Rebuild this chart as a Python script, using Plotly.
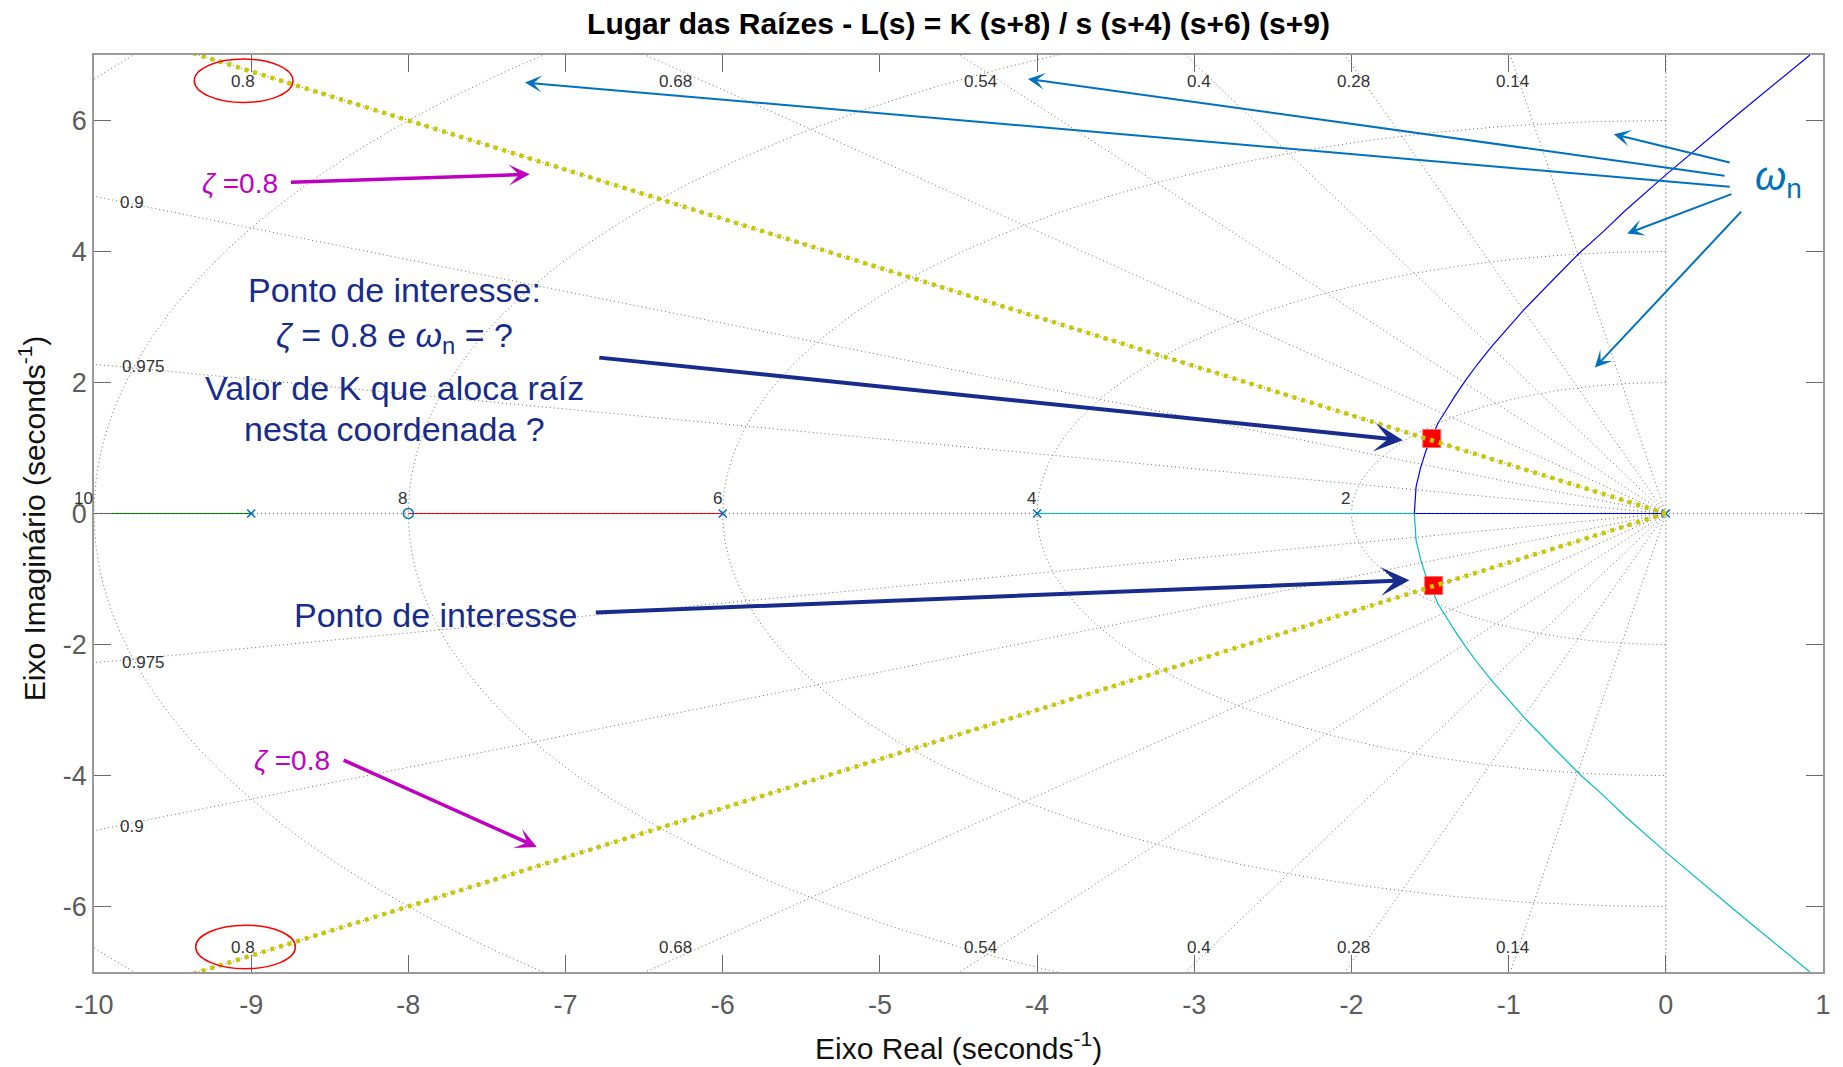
import numpy as np
import plotly.graph_objects as go

# ---------------- data ----------------
poles_re = [0, -4, -6, -9]
zeros_re = [-8]
zeta_vals = [0.14, 0.28, 0.4, 0.54, 0.68, 0.8, 0.9, 0.975]
wn_vals = [2, 4, 6, 8, 10, 12]
wn_label_vals = [2, 4, 6, 8, 10]

# upper complex branch (blue); the lower (cyan) one is its mirror image
branch_re = [-1.60, -1.595, -1.589, -1.56, -1.525, -1.489, -1.451, -1.398, -1.34, -1.273,
             -1.195, -1.11, -1.0, -0.905, -0.725, -0.553, -0.4, -0.256, 0.0, 0.16, 0.475, 0.917]
branch_im = [0.0, 0.20, 0.406, 0.70, 0.966, 1.145, 1.374, 1.577, 1.80, 2.036,
             2.29, 2.545, 2.85, 3.105, 3.55, 3.969, 4.30, 4.63, 5.17, 5.496, 6.13, 7.0]

# real-axis segments of the locus
seg_green = [-9, -10.5]
seg_red = [-6, -8]
seg_cyan = [-4, -1.60]
seg_blue = [0, -1.60]

# zeta = 0.8 highlight lines
zline_re = [0, -9.6]
zline_im = [0, 7.2]

# points of interest
poi_re = [-1.489, -1.477]
poi_im = [1.145, -1.10]

# tick labels
x_ticks = list(range(-10, 2))
x_ticktext = ['-10', '-9', '-8', '-7', '-6', '-5', '-4', '-3', '-2', '-1', '0', '1']
y_ticks = [-6, -4, -2, 0, 2, 4, 6]
y_ticktext = ['-6', '-4', '-2', '0', '2', '4', '6']

# zeta label positions
top_lab_re = [-9.054, -6.303, -4.357, -2.97, -1.985, -0.978]
top_lab_txt = ['0.8', '0.68', '0.54', '0.4', '0.28', '0.14']
top_lab_im = 6.6
side_lab_txt = ['0.9', '0.975']
side_lab_re = [-9.756, -9.682]
side_lab_im = [4.75, 2.238]

FONT = "Liberation Sans, Arial, sans-serif"
GRID = "#6e6e6e"
NAVY = "#172c8c"
MAG = "#c000c0"
WBLUE = "#0072bd"

fig = go.Figure()

# ---------------- s-grid ----------------
R = 16
for z in zeta_vals:
    w = np.sqrt(1 - z * z)
    fig.add_trace(go.Scatter(x=[0, -R * z, None, 0, -R * z], y=[0, R * w, None, 0, -R * w],
                             mode="lines", line=dict(color=GRID, width=1, dash="1px,3px"),
                             hoverinfo="skip", showlegend=False))
th = np.linspace(np.pi / 2, 3 * np.pi / 2, 181)
for wn in wn_vals:
    fig.add_trace(go.Scatter(x=wn * np.cos(th), y=wn * np.sin(th), mode="lines",
                             line=dict(color=GRID, width=1, dash="1px,3px"),
                             hoverinfo="skip", showlegend=False))
fig.add_trace(go.Scatter(x=[0, 0], y=[-8, 8], mode="lines",
                         line=dict(color=GRID, width=1.3, dash="1px,3px"), showlegend=False))
fig.add_trace(go.Scatter(x=[-11, 2], y=[0, 0], mode="lines",
                         line=dict(color=GRID, width=1.3, dash="1px,3px"), showlegend=False))

# ---------------- locus ----------------
fig.add_trace(go.Scatter(x=seg_green, y=[0, 0], mode="lines", line=dict(color="#008000", width=1.2), showlegend=False))
fig.add_trace(go.Scatter(x=seg_red, y=[0, 0], mode="lines", line=dict(color="#ff0000", width=1.2), showlegend=False))
fig.add_trace(go.Scatter(x=seg_cyan, y=[0, 0], mode="lines", line=dict(color="#00bfbf", width=1.2), showlegend=False))
fig.add_trace(go.Scatter(x=seg_blue, y=[0, 0], mode="lines", line=dict(color="#0000ff", width=1.2), showlegend=False))
fig.add_trace(go.Scatter(x=branch_re, y=branch_im, mode="lines",
                         line=dict(color="#0000ff", width=1.2), showlegend=False))
fig.add_trace(go.Scatter(x=branch_re, y=[-v for v in branch_im], mode="lines",
                         line=dict(color="#00bfbf", width=1.2), showlegend=False))

fig.add_trace(go.Scatter(x=poles_re, y=[0] * len(poles_re), mode="markers",
                         marker=dict(symbol="x-thin", size=8, color=WBLUE, line=dict(color=WBLUE, width=1.6)),
                         showlegend=False))
fig.add_trace(go.Scatter(x=zeros_re, y=[0] * len(zeros_re), mode="markers",
                         marker=dict(symbol="circle-open", size=10, color=WBLUE, line=dict(color=WBLUE, width=1.5)),
                         showlegend=False))

fig.add_trace(go.Scatter(x=poi_re, y=poi_im, mode="markers",
                         marker=dict(symbol="square", size=18, color="#ff0000", line=dict(color="#ff6666", width=1)),
                         showlegend=False))
fig.add_trace(go.Scatter(x=zline_re, y=zline_im, mode="lines",
                         line=dict(color="#c8c800", width=4.5, dash="4px,5px"), showlegend=False))
fig.add_trace(go.Scatter(x=zline_re, y=[-v for v in zline_im], mode="lines",
                         line=dict(color="#c8c800", width=4.5, dash="4px,5px"), showlegend=False))

# ---------------- annotations ----------------
ann = []
def txt(x, y, t, size, color, **kw):
    d = dict(x=x, y=y, xref="x", yref="y", text=t, showarrow=False,
             font=dict(family=FONT, size=size, color=color))
    d.update(kw)
    ann.append(d)

def arrow(x, y, ax, ay, color, width, size, head=3):
    ann.append(dict(x=x, y=y, ax=ax, ay=ay, xref="x", yref="y", axref="x", ayref="y",
                    text="", showarrow=True, arrowhead=head, arrowwidth=width,
                    arrowsize=size, arrowcolor=color, standoff=0, startstandoff=0))

for xv, t in zip(top_lab_re, top_lab_txt):
    txt(xv, top_lab_im, t, 17, "#333333")
    txt(xv, -6.627, t, 17, "#333333")
for xv, yv, t in zip(side_lab_re, side_lab_im, side_lab_txt):
    txt(xv, yv, t, 17, "#333333")
    txt(xv, -yv - 0.03, t, 17, "#333333")
for wn in wn_label_vals:
    if wn == 10:
        txt(-10, 0.05, str(wn), 17, "#333333", xanchor="right", yanchor="bottom", xshift=1)
    else:
        txt(-wn - 0.035, 0.05, str(wn), 17, "#333333", yanchor="bottom")

shapes = [
    dict(type="circle", xref="x", yref="y", x0=-9.362, x1=-8.734, y0=6.275, y1=6.939,
         line=dict(color="#ff0000", width=1.5)),
    dict(type="circle", xref="x", yref="y", x0=-9.353, x1=-8.719, y0=-6.95, y1=-6.285,
         line=dict(color="#ff0000", width=1.5)),
]

# magenta zeta notes
txt(-9.07, 5.04, "<i>ζ</i> =0.8", 28, MAG)
arrow(-7.228, 5.18, -8.757, 5.055, MAG, 3.5, 1.0)
txt(-8.74, -3.77, "<i>ζ</i> =0.8", 28, MAG)
arrow(-7.183, -5.09, -8.421, -3.756, MAG, 3.5, 1.0)

# navy notes
txt(-8.09, 3.416, "Ponto de interesse:", 34, NAVY)
txt(-8.09, 2.69, "<i>ζ</i> = 0.8 e <i>ω</i><sub>n</sub> = ?", 34, NAVY)
txt(-8.09, 1.91, "Valor de K que aloca raíz", 34, NAVY)
txt(-8.09, 1.29, "nesta coordenada ?", 34, NAVY)
arrow(-1.673, 1.119, -6.795, 2.382, NAVY, 4, 1.2)
txt(-7.826, -1.548, "Ponto de interesse", 34, NAVY)
arrow(-1.631, -1.018, -6.817, -1.513, NAVY, 4, 1.2)

# omega_n notes
txt(0.72, 5.1, "<i>ω</i><sub>n</sub>", 40, WBLUE)
arrow(-0.331, 5.791, 0.416, 5.353, WBLUE, 2, 1.4)
arrow(-4.058, 6.634, 0.383, 5.154, WBLUE, 2, 1.4)
arrow(-7.258, 6.58, 0.416, 4.986, WBLUE, 2, 1.4)
arrow(-0.246, 4.275, 0.427, 4.885, WBLUE, 2, 1.4)
arrow(-0.451, 2.229, 0.488, 4.631, WBLUE, 2, 1.4)

# axis titles
ann.append(dict(x=0.5, y=-0.0807, xref="paper", yref="paper", showarrow=False,
                xanchor="center", yanchor="middle",
                text="Eixo Real (seconds<sup>-1</sup>)", font=dict(family=FONT, size=30, color="#111111")))
ann.append(dict(x=-0.0358, y=0.495, xref="paper", yref="paper", showarrow=False, textangle=-90,
                xanchor="center", yanchor="middle",
                text="Eixo Imaginário (seconds<sup>-1</sup>)", font=dict(family=FONT, size=30, color="#111111")))

axis_common = dict(showgrid=False, zeroline=False, showline=True, linecolor="#9a9a9a", linewidth=1.5,
                   mirror="ticks", ticks="inside", ticklen=17, tickcolor="#6a6a6a", tickwidth=1,
                   tickfont=dict(family=FONT, size=27, color="#5c5c5c"))

fig.update_layout(
    width=1843, height=1067,
    margin=dict(l=94, r=15, t=55, b=95),
    plot_bgcolor="white", paper_bgcolor="white",
    title=dict(text="<b>Lugar das Raízes - L(s) = K (s+8) / s (s+4) (s+6) (s+9)</b>",
               x=0.5, xref="paper", y=1 - 23.5 / 1067, yref="container", yanchor="middle",
               font=dict(family=FONT, size=30, color="#000000")),
    xaxis=dict(range=[-10, 1], tickmode="array", tickvals=x_ticks, ticktext=x_ticktext,
               ticklabelstandoff=8, **axis_common),
    yaxis=dict(range=[-7, 7], tickmode="array", tickvals=y_ticks, ticktext=y_ticktext, **axis_common),
    annotations=ann,
    shapes=shapes,
    showlegend=False,
)

fig.write_html("out.html")
